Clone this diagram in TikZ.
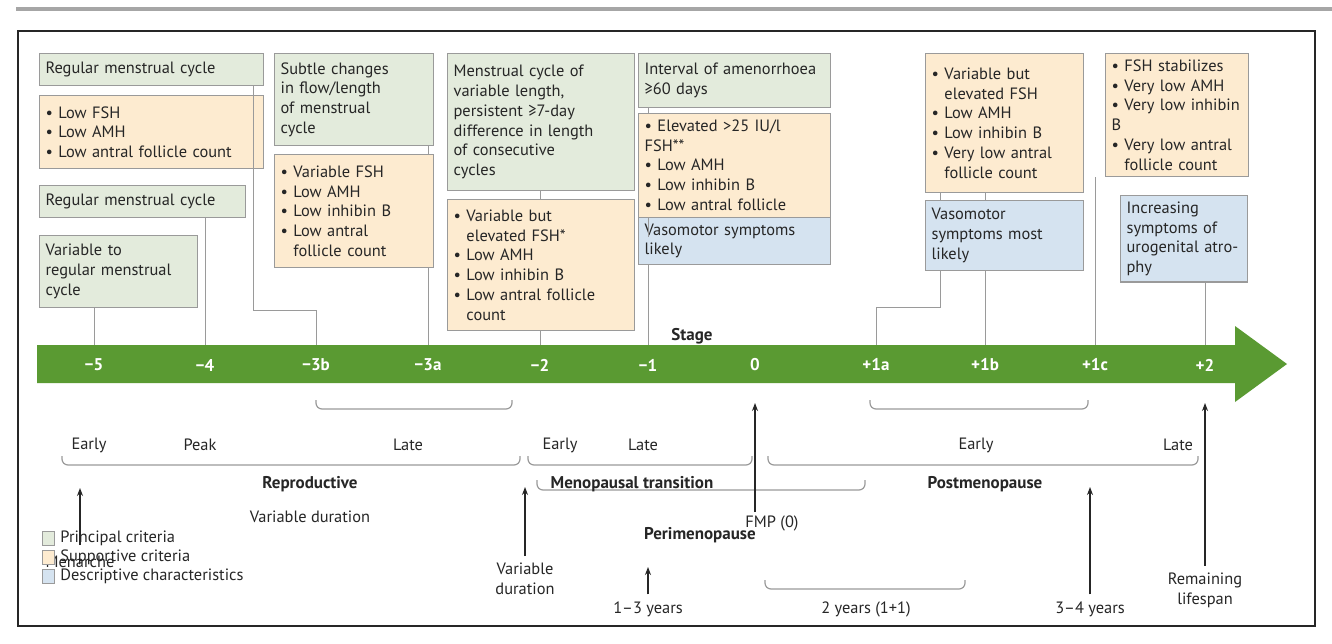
\documentclass[tikz,border=0pt]{standalone}
\usepackage{fontspec}
\usetikzlibrary{arrows.meta}
\setmainfont{PT Sans}
\definecolor{pg}{HTML}{E3EBDC}
\definecolor{po}{HTML}{FDEBD0}
\definecolor{pb}{HTML}{D5E3F0}
\definecolor{bar}{HTML}{5A9A32}
\definecolor{ln}{HTML}{9A9A9A}
\newcommand\bx[7]{\pgfmathsetmacro\tw{(#4-#2-12)*0.5}\pgfmathsetmacro\hh{(#5-#3)*0.5}%
\node[box,fill=#6,text width=\tw pt,minimum height=\hh pt,anchor=north west](#1) at (#2,#3){#7};}
\newcommand\bul{\textbullet\ }
\newcommand\ind{\phantom{\textbullet\ }}
\begin{document}
\begin{tikzpicture}[x=0.5pt,y=-0.5pt,
  every node/.style={font=\fontsize{8.2}{9.9}\selectfont, text=black!85},
  box/.style={draw=ln,line width=0.6pt,inner sep=3pt,align=left},
  conn/.style={draw=ln,line width=0.5pt},
  brk/.style={draw=ln,line width=0.6pt,rounded corners=3pt},
  up/.style={-{Stealth[length=4pt,width=3pt]},line width=0.6pt,black!85},
  stg/.style={text=white,font=\fontsize{8.5}{10}\selectfont\bfseries},
  lab/.style={align=center},
  bold/.style={font=\fontsize{8.5}{10}\selectfont\bfseries}]
\useasboundingbox (0,0) rectangle (1332,643);
\fill[white] (0,0) rectangle (1332,643);
\draw[line width=2pt,black!35] (16,9) -- (1332,9);
\draw[line width=0.9pt,black!85] (18,31) rectangle (1315,626);
% boxes
\bx{g1}{39}{53}{263}{85}{pg}{Regular menstrual cycle}
\bx{o1}{39}{95}{263}{168}{po}{\bul Low FSH\\\bul Low AMH\\\bul Low antral follicle count}
\bx{g2}{39}{185}{245}{217}{pg}{Regular menstrual cycle}
\bx{g3}{39}{235}{197}{307}{pg}{Variable to\\regular menstrual\\cycle}
\bx{g4}{274}{53}{433}{145}{pg}{Subtle changes\\in flow/length\\of menstrual\\cycle}
\bx{o4}{274}{154}{433}{267}{po}{\bul Variable FSH\\\bul Low AMH\\\bul Low inhibin B\\\bul Low antral\\\ind follicle count}
\bx{g5}{447}{53}{634}{190}{pg}{Menstrual cycle of\\variable length,\\persistent ≥7-day\\difference in length\\of consecutive\\cycles}
\bx{o5}{447}{199}{634}{330}{po}{\bul Variable but\\\ind elevated FSH*\\\bul Low AMH\\\bul Low inhibin B\\\bul Low antral follicle\\\ind count}
\bx{g6}{638}{53}{830}{107}{pg}{Interval of amenorrhoea\\≥60 days}
\bx{o6}{638}{113}{830}{209}{po}{\bul Elevated >25 IU/l FSH**\\\bul Low AMH\\\bul Low inhibin B\\\bul Low antral follicle count}
\bx{b6}{638}{217}{830}{250}{pb}{Vasomotor symptoms likely}
\bx{o7}{925}{53}{1083}{192}{po}{\bul Variable but\\\ind elevated FSH\\\bul Low AMH\\\bul Low inhibin B\\\bul Very low antral\\\ind follicle count}
\bx{b7}{925}{200}{1083}{270}{pb}{Vasomotor\\symptoms most\\likely}
\bx{o8}{1105}{53}{1248}{165}{po}{\bul FSH stabilizes\\\bul Very low AMH\\\bul Very low inhibin B\\\bul Very low antral\\\ind follicle count}
\bx{b8}{1120}{195}{1247}{265}{pb}{Increasing\\symptoms of\\urogenital atrophy}
% bar
\fill[bar] (37,345) -- (1235,345) -- (1235,326) -- (1287,364) -- (1235,402) -- (1235,383) -- (37,383) -- cycle;
\node[bold] (stage) at (692,336) {Stage};
\foreach \n/\x/\t in {s1/94/−5,s2/205/−4,s3/316/−3b,s4/428/−3a,s5/540/−2,s6/648/−1,s7/755/0,s8/876/+1a,s9/985/+1b,s10/1095/+1c,s11/1205/+2}{
  \node[stg] (\n) at (\x,365) {\t};
  \coordinate (\n t) at (\x,345);}
% connectors
\draw[conn] (g3.south -| s1t) -- (s1t);
\draw[conn] (g2.south -| s2t) -- (s2t);
\draw[conn] (253,0 |- g1.south) -- (253,310) -| (s3t);
\draw[conn] (g4.south -| s4t) -- (o4.north -| s4t);
\draw[conn] (o4.south -| s4t) -- (s4t);
\draw[conn] (g5.south -| s5t) -- (o5.north -| s5t);
\draw[conn] (o5.south -| s5t) -- (s5t);
\draw[conn] (b6.south -| s6t) -- (s6t);
\draw[conn] (g6.south -| s6t) -- (o6.north -| s6t);
\draw[conn] (o6.south -| s6t) -- (b6.north -| s6t);
\draw[conn] (940,0 |- o7.south) -- (940,0 |- b7.north);
\draw[conn] (940,0 |- b7.south) -- (940,307) -| (s8t);
\draw[conn] (o7.south -| s9t) -- (b7.north -| s9t);
\draw[conn] (b7.south -| s9t) -- (s9t);
\draw[conn] (o8.south -| s10t) -- (s10t);
\draw[conn] (b8.south -| s11t) -- (s11t);
% brackets
\draw[brk] (316,400) -- (316,409) -- (512,409) -- (512,400);
\draw[brk] (62,456) -- (62,465) -- (520,465) -- (520,456);
\draw[brk] (528,456) -- (528,465) -- (752,465) -- (752,456);
\draw[brk] (870,400) -- (870,409) -- (1088,409) -- (1088,400);
\draw[brk] (768,456) -- (768,465) -- (1198,465) -- (1198,456);
\draw[brk] (537,480) -- (537,490) -- (865,490) -- (865,480);
\draw[brk] (765,580) -- (765,589) -- (965,589) -- (965,580);
\node (e1) at (89,445) {Early};
\node (pk) at (200,445) {Peak};
\node (l1) at (408,445) {Late};
\node[bold] (rep) at (310,484) {Reproductive};
\node (vd1) at (310,517) {Variable duration};
\node (e2) at (560,445) {Early};
\node (l2) at (643,445) {Late};
\node[bold] (mt) at (632,484) {Menopausal transition};
\node (e3) at (976,445) {Early};
\node (l3) at (1178,445) {Late};
\node[bold] (pm) at (985,484) {Postmenopause};
\node[bold] (peri) at (700,535) {Perimenopause};
% arrows
\node (men) at (80,562) {Menarche};
\coordinate (menA) at (80,488);
\draw[up] (men.north) ++(0,-4) -- (menA);
\node[lab] (vd2) at (525,579) {Variable\\duration};
\draw[up] (vd2.north) -- (525,487);
\node (fmp) at (772,523) {FMP (0)};
\draw[up] (755,512) -- (s7 |- 0,403);
\node (y13) at (648,609) {1–3 years};
\draw[up] (y13.north) -- (648,567);
\node (y2) at (866,609) {2 years (1+1)};
\node (y34) at (1090,609) {3–4 years};
\draw[up] (y34.north) -- (1090,487);
\node[lab] (rl) at (1205,590) {Remaining\\lifespan};
\draw[up] (rl.north) -- (1205,403);
% legend
\foreach \n/\y/\c/\t in {lg1/538/pg/Principal criteria,lg2/557/po/Supportive criteria,lg3/576/pb/Descriptive characteristics}{
  \draw[draw=ln,fill=\c,line width=0.5pt] (42,\y-7) rectangle (54,\y+7);
  \node[anchor=west,inner sep=0pt] (\n) at (60,\y) {\t};}
\end{tikzpicture}
\end{document}
